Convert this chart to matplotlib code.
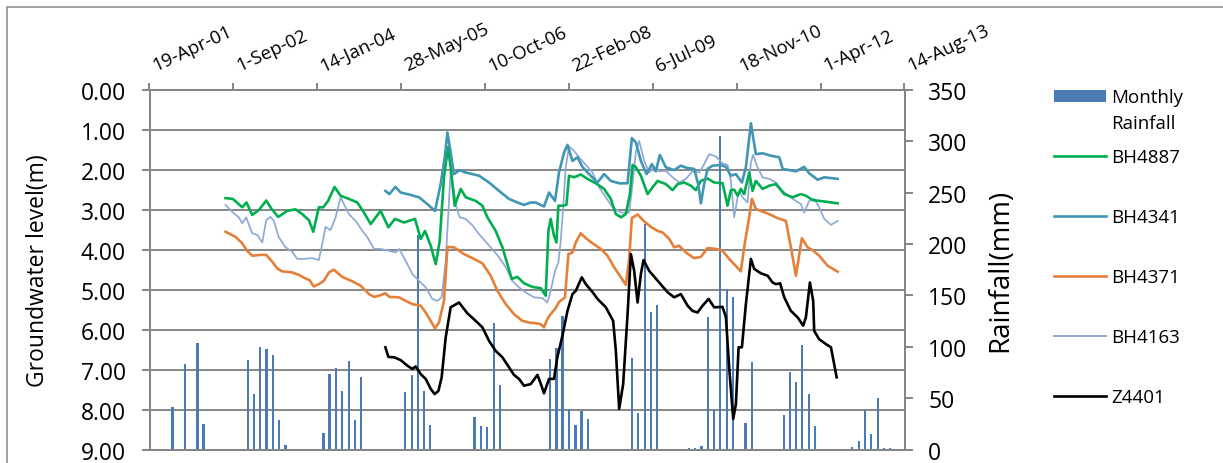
import matplotlib
matplotlib.use('Agg')
import matplotlib.pyplot as plt
from matplotlib.lines import Line2D
from matplotlib.patches import Rectangle
from datetime import datetime, timedelta
import pandas as pd

plt.rcParams['font.family'] = ['Open Sans', 'DejaVu Sans']

# ---------------- data (decimal years, depth in m, rainfall in mm) ----------------
rain_years = [2001.672, 2001.873, 2002.080, 2002.178, 2002.901, 2003.006, 2003.104, 2003.207,
              2003.316, 2003.414, 2003.517, 2004.138, 2004.236, 2004.338, 2004.443, 2004.546,
              2004.644, 2004.747, 2005.472, 2005.575, 2005.673, 2005.782, 2005.880, 2006.599,
              2006.702, 2006.805, 2006.914, 2007.012, 2007.833, 2007.938, 2008.036, 2008.144,
              2008.248, 2008.346, 2008.449, 2009.172, 2009.270, 2009.380, 2009.483, 2009.581,
              2010.103, 2010.201, 2010.305, 2010.408, 2010.506, 2010.609, 2010.719, 2010.817,
              2011.024, 2011.127, 2011.645, 2011.743, 2011.846, 2011.948, 2012.053, 2012.156,
              2012.765, 2012.870, 2012.972, 2013.075, 2013.180, 2013.283, 2013.386]
rain_mm = [42, 83, 104, 25, 87, 54, 100, 98, 92, 29, 5, 16, 74, 79, 57, 86, 29, 71, 56, 73,
           209, 57, 24, 32, 23, 22, 123, 63, 88, 99, 130, 40, 24, 38, 30, 89, 36, 219, 134, 141,
           2, 1.5, 4, 129, 39, 305, 156, 148, 26, 85, 34, 76, 66, 102, 54, 23, 2.5, 8, 39, 15,
           50, 1.5, 2]

bh4887_t = [2002.537, 2002.656, 2002.810, 2002.880, 2002.973, 2003.081, 2003.202, 2003.289,
            2003.398, 2003.545, 2003.680, 2003.790, 2003.898, 2003.970, 2004.061, 2004.133,
            2004.208, 2004.317, 2004.415, 2004.551, 2004.688, 2004.796, 2004.905, 2004.987,
            2005.068, 2005.194, 2005.302, 2005.449, 2005.628, 2005.722, 2005.792, 2005.885,
            2005.967, 2006.032, 2006.102, 2006.167, 2006.211, 2006.277, 2006.375, 2006.456,
            2006.620, 2006.729, 2006.811, 2006.946, 2007.056, 2007.137, 2007.208, 2007.301,
            2007.409, 2007.546, 2007.681, 2007.763, 2007.807, 2007.844, 2007.898, 2007.938,
            2007.970, 2008.036, 2008.101, 2008.144, 2008.226, 2008.334, 2008.444, 2008.579,
            2008.715, 2008.824, 2008.906, 2008.988, 2009.069, 2009.135, 2009.179, 2009.233,
            2009.314, 2009.424, 2009.506, 2009.587, 2009.722, 2009.832, 2009.914, 2010.022,
            2010.131, 2010.212, 2010.294, 2010.403, 2010.511, 2010.648, 2010.730, 2010.784,
            2010.838, 2010.894, 2010.947, 2011.001, 2011.083, 2011.138, 2011.192, 2011.302,
            2011.410, 2011.519, 2011.655, 2011.792, 2011.927, 2012.009, 2012.118, 2012.281,
            2012.526]
bh4887_d = [2.71, 2.73, 2.94, 2.82, 3.13, 3.01, 2.77, 2.98, 3.18, 3.03, 2.99, 3.11, 3.26, 3.55,
            2.94, 2.94, 2.79, 2.43, 2.65, 2.73, 2.82, 3.07, 3.36, 3.19, 3.03, 3.44, 3.23, 3.32,
            3.23, 3.73, 3.53, 3.90, 4.36, 3.78, 2.19, 1.44, 1.94, 2.90, 2.48, 2.69, 2.78, 2.90,
            3.19, 3.53, 3.94, 4.36, 4.73, 4.68, 4.84, 4.93, 4.96, 5.15, 3.53, 3.23, 3.65, 3.82,
            2.90, 2.90, 2.88, 2.15, 2.19, 2.12, 2.23, 2.34, 2.48, 2.73, 3.11, 3.19, 3.11, 2.61,
            1.88, 1.94, 2.15, 2.61, 2.44, 2.28, 2.36, 2.51, 2.36, 2.32, 2.40, 2.51, 2.28, 2.22,
            2.32, 2.34, 2.90, 2.51, 2.50, 2.65, 2.48, 2.61, 2.07, 2.53, 2.28, 2.48, 2.40, 2.36,
            2.61, 2.69, 2.61, 2.65, 2.76, 2.79, 2.84]

bh4341_t = [2005.145, 2005.210, 2005.308, 2005.395, 2005.558, 2005.694, 2005.831, 2005.955,
            2006.048, 2006.114, 2006.158, 2006.211, 2006.265, 2006.358, 2006.456, 2006.674,
            2006.838, 2007.001, 2007.164, 2007.301, 2007.409, 2007.518, 2007.600, 2007.735,
            2007.817, 2007.915, 2007.980, 2008.062, 2008.118, 2008.199, 2008.281, 2008.362,
            2008.470, 2008.607, 2008.715, 2008.824, 2008.960, 2009.097, 2009.167, 2009.233,
            2009.314, 2009.407, 2009.494, 2009.559, 2009.624, 2009.722, 2009.858, 2009.967,
            2010.077, 2010.185, 2010.250, 2010.294, 2010.348, 2010.403, 2010.485, 2010.621,
            2010.703, 2010.784, 2010.866, 2010.964, 2011.029, 2011.111, 2011.192, 2011.302,
            2011.438, 2011.574, 2011.629, 2011.846, 2011.981, 2012.063, 2012.200, 2012.308,
            2012.526]
bh4341_d = [2.53, 2.61, 2.43, 2.57, 2.63, 2.69, 2.86, 3.03, 2.36, 1.69, 1.07, 1.57, 2.11, 2.01,
            2.07, 2.15, 2.32, 2.53, 2.73, 2.82, 2.88, 2.82, 2.82, 2.92, 2.57, 2.78, 2.07, 1.57,
            1.38, 1.78, 1.69, 1.93, 2.11, 2.32, 2.11, 2.28, 2.34, 2.34, 1.21, 1.32, 1.78, 2.11,
            1.86, 2.04, 1.63, 1.94, 2.01, 1.90, 1.96, 1.98, 2.36, 2.84, 2.36, 1.98, 1.90, 1.88,
            1.93, 2.15, 2.11, 2.32, 1.94, 0.84, 1.61, 1.59, 1.65, 1.69, 1.98, 2.04, 1.93, 2.09,
            2.25, 2.19, 2.23]

bh4371_t = [2002.537, 2002.701, 2002.810, 2002.892, 2002.973, 2003.109, 2003.202, 2003.289,
            2003.383, 2003.463, 2003.627, 2003.735, 2003.844, 2003.909, 2003.979, 2004.061,
            2004.142, 2004.224, 2004.306, 2004.443, 2004.606, 2004.742, 2004.878, 2004.960,
            2005.041, 2005.145, 2005.210, 2005.368, 2005.477, 2005.586, 2005.722, 2005.803,
            2005.885, 2005.955, 2006.020, 2006.102, 2006.158, 2006.265, 2006.429, 2006.566,
            2006.729, 2006.865, 2006.974, 2007.110, 2007.245, 2007.382, 2007.518, 2007.572,
            2007.681, 2007.735, 2007.791, 2007.844, 2007.926, 2007.980, 2008.078, 2008.133,
            2008.199, 2008.253, 2008.334, 2008.416, 2008.526, 2008.661, 2008.770, 2008.878,
            2008.988, 2009.069, 2009.123, 2009.167, 2009.261, 2009.368, 2009.477, 2009.587,
            2009.669, 2009.777, 2009.858, 2009.940, 2010.049, 2010.185, 2010.294, 2010.403,
            2010.539, 2010.648, 2010.756, 2010.947, 2011.001, 2011.083, 2011.127, 2011.192,
            2011.410, 2011.546, 2011.682, 2011.764, 2011.846, 2011.943, 2012.036, 2012.118,
            2012.226, 2012.363, 2012.526]
bh4371_d = [3.55, 3.68, 3.84, 4.03, 4.15, 4.13, 4.13, 4.28, 4.47, 4.54, 4.57, 4.63, 4.72, 4.76,
            4.92, 4.86, 4.78, 4.57, 4.50, 4.68, 4.79, 4.90, 5.11, 5.18, 5.15, 5.09, 5.18, 5.19,
            5.28, 5.36, 5.40, 5.57, 5.78, 5.97, 5.82, 5.28, 3.93, 3.94, 4.11, 4.21, 4.34, 4.65,
            5.03, 5.36, 5.61, 5.78, 5.83, 5.83, 5.86, 5.94, 5.73, 5.61, 5.46, 5.31, 5.19, 4.11,
            4.07, 3.82, 3.59, 3.71, 3.84, 3.98, 4.15, 4.44, 4.69, 4.88, 4.23, 3.21, 3.12, 3.29,
            3.43, 3.53, 3.57, 3.73, 3.94, 3.90, 4.07, 4.21, 4.18, 3.96, 3.98, 4.03, 4.23, 4.54,
            3.94, 3.19, 2.73, 2.98, 3.11, 3.21, 3.28, 3.94, 4.65, 3.71, 3.94, 4.01, 4.15, 4.40,
            4.55]

bh4163_t = [2002.537, 2002.656, 2002.754, 2002.810, 2002.875, 2002.973, 2003.055, 2003.137,
            2003.202, 2003.272, 2003.326, 2003.408, 2003.517, 2003.627, 2003.708, 2003.816,
            2003.953, 2004.061, 2004.116, 2004.170, 2004.252, 2004.334, 2004.415, 2004.469,
            2004.551, 2004.660, 2004.770, 2004.852, 2004.960, 2005.068, 2005.210, 2005.313,
            2005.368, 2005.477, 2005.586, 2005.722, 2005.803, 2005.912, 2005.995, 2006.064,
            2006.130, 2006.211, 2006.265, 2006.304, 2006.358, 2006.456, 2006.566, 2006.674,
            2006.772, 2006.865, 2007.001, 2007.110, 2007.219, 2007.327, 2007.436, 2007.572,
            2007.709, 2007.791, 2007.844, 2007.915, 2007.970, 2008.008, 2008.052, 2008.089,
            2008.144, 2008.226, 2008.307, 2008.416, 2008.526, 2008.634, 2008.743, 2008.852,
            2008.988, 2009.123, 2009.179, 2009.233, 2009.286, 2009.368, 2009.450, 2009.532,
            2009.613, 2009.722, 2009.832, 2009.940, 2010.049, 2010.158, 2010.267, 2010.348,
            2010.430, 2010.539, 2010.648, 2010.730, 2010.784, 2010.838, 2010.894, 2010.919,
            2010.975, 2011.057, 2011.111, 2011.147, 2011.219, 2011.302, 2011.410, 2011.519,
            2011.629, 2011.792, 2011.927, 2011.981, 2012.063, 2012.144, 2012.226, 2012.308,
            2012.417, 2012.526]
bh4163_d = [2.88, 3.07, 3.19, 3.34, 3.19, 3.59, 3.63, 3.82, 3.26, 3.18, 3.28, 3.69, 3.94, 4.05,
            4.23, 4.23, 4.21, 4.26, 3.86, 3.43, 3.51, 3.19, 2.69, 2.86, 3.11, 3.28, 3.53, 3.69,
            3.98, 3.98, 4.03, 4.07, 3.98, 4.28, 4.61, 4.82, 4.94, 5.23, 5.28, 5.19, 4.28, 2.03,
            2.53, 2.94, 3.19, 3.23, 3.39, 3.61, 3.78, 3.94, 4.19, 4.44, 4.78, 4.94, 5.07, 5.19,
            5.21, 5.32, 5.03, 4.53, 4.32, 3.78, 2.86, 1.94, 1.42, 1.53, 1.69, 1.88, 2.07, 2.44,
            2.69, 2.94, 3.07, 3.07, 2.36, 1.53, 1.28, 1.78, 2.07, 1.94, 2.04, 2.03, 2.19, 2.32,
            2.23, 2.04, 2.07, 1.86, 1.61, 1.67, 1.84, 1.88, 2.28, 3.19, 2.69, 2.53, 2.69, 2.82,
            1.82, 1.63, 1.94, 2.19, 2.23, 2.32, 2.53, 2.73, 2.86, 3.07, 2.78, 2.73, 2.94, 3.23,
            3.38, 3.28]

z4401_t = [2005.145, 2005.194, 2005.286, 2005.395, 2005.504, 2005.586, 2005.640, 2005.722,
           2005.803, 2005.885, 2005.950, 2006.011, 2006.064, 2006.130, 2006.211, 2006.347,
           2006.484, 2006.620, 2006.729, 2006.838, 2006.946, 2007.056, 2007.164, 2007.245,
           2007.327, 2007.409, 2007.518, 2007.628, 2007.694, 2007.735, 2007.817, 2007.898,
           2007.953, 2008.036, 2008.118, 2008.199, 2008.253, 2008.351, 2008.416, 2008.531,
           2008.607, 2008.743, 2008.862, 2008.906, 2008.960, 2009.025, 2009.097, 2009.151,
           2009.205, 2009.261, 2009.314, 2009.358, 2009.450, 2009.613, 2009.755, 2009.858,
           2009.967, 2010.077, 2010.158, 2010.240, 2010.322, 2010.420, 2010.511, 2010.648,
           2010.703, 2010.756, 2010.822, 2010.866, 2010.910, 2010.964, 2011.029, 2011.111,
           2011.165, 2011.274, 2011.384, 2011.465, 2011.519, 2011.588, 2011.655, 2011.764,
           2011.874, 2011.965, 2012.009, 2012.074, 2012.128, 2012.144, 2012.226, 2012.335,
           2012.417, 2012.510]
z4401_d = [6.44, 6.68, 6.69, 6.76, 6.90, 6.98, 6.92, 7.11, 7.23, 7.48, 7.61, 7.53, 7.19, 6.19,
           5.44, 5.32, 5.59, 5.78, 5.94, 6.28, 6.53, 6.69, 6.94, 7.13, 7.23, 7.40, 7.36, 7.13,
           7.40, 7.59, 7.23, 7.23, 6.69, 6.15, 5.53, 5.11, 5.03, 4.69, 4.86, 5.07, 5.23, 5.44,
           5.78, 6.53, 7.98, 7.36, 5.61, 4.11, 4.53, 5.32, 4.61, 4.26, 4.53, 4.82, 5.07, 5.19,
           5.11, 5.40, 5.53, 5.57, 5.40, 5.23, 5.44, 5.43, 5.69, 6.94, 8.23, 7.86, 6.44, 6.44,
           5.36, 4.23, 4.48, 4.59, 4.65, 4.82, 4.86, 4.84, 5.19, 5.53, 5.69, 5.90, 5.69, 4.82,
           5.28, 6.03, 6.24, 6.36, 6.44, 7.19]

series_names = ['BH4887', 'BH4341', 'BH4371', 'BH4163', 'Z4401']
rain_label = 'Monthly\nRainfall'
left_label = 'Groundwater level(m)'
right_label = 'Rainfall(mm)'
x_start, x_end, x_step_days = '2001-04-19', '2013-08-14', 500
depth_ticks = [0, 1, 2, 3, 4, 5, 6, 7, 8, 9]
rain_ticks = [0, 50, 100, 150, 200, 250, 300, 350]


def to_dates(years):
    out = []
    for y in years:
        yi = int(y)
        s = datetime(yi, 1, 1)
        n = (datetime(yi + 1, 1, 1) - s).days
        out.append(s + timedelta(days=(y - yi) * n))
    return out


# ---------------- styling ----------------
W, H = 1223, 464
GRAY = '#868686'
C_BAR = '#4a7bb7'
colors = {'BH4887': '#00ae4f', 'BH4341': '#4096b4', 'BH4371': '#e4803a',
          'BH4163': '#8fa9d6', 'Z4401': '#000000'}
widths = {'BH4887': 1.9, 'BH4341': 1.9, 'BH4371': 1.9, 'BH4163': 1.25, 'Z4401': 1.9}
LW_AX = 1.4

fig = plt.figure(figsize=(W / 100, H / 100), dpi=100)
fig.patch.set_facecolor('white')
ax_l, ax_r, ax_t, ax_b = 149.5, 904.5, 90.7, 450.7
rect = [ax_l / W, 1 - ax_b / H, (ax_r - ax_l) / W, (ax_b - ax_t) / H]
ax = fig.add_axes(rect)                # depth axis: grid, left & top ticks
ax2 = ax.twinx()                       # rainfall axis: bars
axl = fig.add_axes(rect, sharex=ax, sharey=ax)   # overlay for the level lines
ax.set_zorder(1)
ax2.set_zorder(2)
axl.set_zorder(3)
ax2.patch.set_visible(False)
axl.patch.set_visible(False)
axl.axis('off')

# rainfall bars on right axis
ax2.bar(to_dates(rain_years), rain_mm, width=13, color=C_BAR, linewidth=0, zorder=2)
ax2.set_ylim(0, 350)
ax2.set_yticks(rain_ticks)
ax2.set_yticklabels([str(v) for v in rain_ticks])

# groundwater lines (depth scale)
data = {'BH4887': (bh4887_t, bh4887_d), 'BH4341': (bh4341_t, bh4341_d),
        'BH4371': (bh4371_t, bh4371_d), 'BH4163': (bh4163_t, bh4163_d),
        'Z4401': (z4401_t, z4401_d)}
for name in ['BH4163', 'BH4887', 'BH4371', 'BH4341', 'Z4401']:
    t, d = data[name]
    axl.plot(to_dates(t), d, color=colors[name], lw=widths[name], zorder=3,
             solid_joinstyle='round')

ax.set_ylim(9, 0)
ax.set_yticks(depth_ticks)
ax.set_yticklabels(['%.2f' % v for v in depth_ticks])
ax.yaxis.grid(True, color=GRAY, lw=LW_AX)

xs = pd.Timestamp(x_start)
xe = pd.Timestamp(x_end)
ax.set_xlim(xs, xe)
xt = pd.date_range(xs, xe, freq=f'{x_step_days}D')
ax.set_xticks(xt)
ax.xaxis.tick_top()
ax.set_xticklabels([f"{d.day}-{d:%b-%y}" for d in xt], rotation=25, ha='left', va='bottom',
                   rotation_mode='default')
ax.tick_params(axis='x', which='both', direction='out', length=5, width=LW_AX, color=GRAY,
               pad=6, labelsize=13.4)
ax.tick_params(axis='y', direction='out', length=6, width=LW_AX, color=GRAY, pad=11,
               labelsize=16.5)
ax2.tick_params(axis='y', direction='out', length=6, width=LW_AX, color=GRAY, pad=11,
                labelsize=16.5)
ax2.tick_params(axis='x', which='both', length=0, labeltop=False, labelbottom=False)

for a in (ax, ax2):
    for s in a.spines.values():
        s.set_color(GRAY)
        s.set_linewidth(LW_AX)

fig.text(38 / W, 1 - 271 / H, left_label, rotation=90, ha='center', va='center',
         fontsize=16.5)
fig.text(1000 / W, 1 - 270 / H, right_label, rotation=90, ha='center', va='center',
         fontsize=20)


# legend (drawn in figure pixel space)
def fy(y):
    return 1 - y / H


fig.add_artist(Rectangle((1054 / W, fy(102.7)), 52 / W, 11.7 / H, transform=fig.transFigure,
                         facecolor=C_BAR, edgecolor='none'))
for i, line in enumerate(rain_label.split('\n')):
    fig.text(1111 / W, fy(103.3 + 26 * i), line, ha='left', va='baseline', fontsize=13.5)
for i, name in enumerate(series_names):
    yy = 157.3 + 60 * i
    fig.add_artist(Line2D([1054 / W, 1106 / W], [fy(yy), fy(yy)], transform=fig.transFigure,
                          color=colors[name], lw=widths[name] if name != 'BH4163' else 1.4))
    fig.text(1111 / W, fy(yy + 6), name, ha='left', va='baseline', fontsize=13.5)

# chart-area border
fig.add_artist(Rectangle((6.5 / W, -0.1), 1.2, fy(8) + 0.1, transform=fig.transFigure,
                         fill=False, edgecolor=GRAY, lw=1.1))

fig.savefig('out.png', dpi=100, facecolor='white')
